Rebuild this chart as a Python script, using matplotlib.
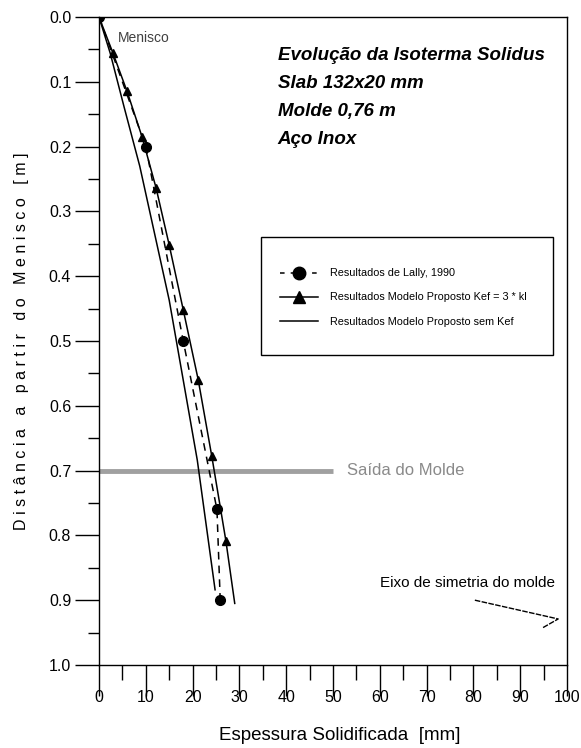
import matplotlib
matplotlib.use("Agg")
import matplotlib.pyplot as plt
from matplotlib.ticker import MultipleLocator
from matplotlib.lines import Line2D
from matplotlib.patches import Rectangle

plt.rcParams['font.family'] = ['Liberation Sans', 'DejaVu Sans']

# Data
lally_x = [0, 10, 18, 25.2, 25.9]
lally_y = [0.0, 0.2, 0.5, 0.76, 0.9]

kef_x = [0, 3.0, 6.0, 9.2, 12.2, 15.0, 18.0, 21.2, 24.1, 27.1, 29.0]
kef_y = [0.0, 0.056, 0.115, 0.185, 0.264, 0.352, 0.452, 0.56, 0.678, 0.808, 0.905]

sem_x = [0, 2.4, 5.4, 8.7, 15.0, 21.0, 24.8]
sem_y = [0.0, 0.056, 0.14, 0.23, 0.437, 0.684, 0.884]

x_ticks = list(range(0, 101, 10))
y_ticks = [round(0.1 * i, 1) for i in range(11)]

fig = plt.figure(figsize=(5.81, 7.48), dpi=100)
ax = fig.add_axes([0.1704, 0.111, 0.976 - 0.1704, 0.9773 - 0.111])

# Mold exit line
ax.plot([0, 50], [0.7, 0.7], color='#a0a0a0', lw=3.5, solid_capstyle='butt', zorder=1)
ax.text(53, 0.7, 'Saída do Molde', color='#8a8a8a', fontsize=12, va='center', ha='left')

ax.plot(sem_x, sem_y, color='black', lw=1.1, zorder=3)
ax.plot(kef_x, kef_y, color='black', lw=1.1, marker='^', markersize=6,
        markevery=list(range(1, len(kef_x) - 1)), zorder=3)
ax.plot(lally_x, lally_y, color='black', lw=1.1, ls=(0, (5, 4)), marker='o',
        markersize=7, zorder=4)

ax.set_xlim(0, 100)
ax.set_ylim(1.0, 0.0)
ax.set_xticks(x_ticks)
ax.set_yticks(y_ticks)
ax.set_yticklabels([f'{v:.1f}' for v in y_ticks])
ax.xaxis.set_minor_locator(MultipleLocator(5))
ax.yaxis.set_minor_locator(MultipleLocator(0.05))
ax.tick_params(axis='both', which='major', direction='out', length=17, width=1, labelsize=11.5)
ax.tick_params(axis='both', which='minor', direction='out', length=8, width=1)
ax.tick_params(axis='x', which='major', length=22, pad=-4)
ax.tick_params(axis='x', which='minor', length=11)
ax.tick_params(axis='y', which='major', pad=3)
for s in ax.spines.values():
    s.set_linewidth(1)

ax.set_xlabel('Espessura Solidificada  [mm]', fontsize=13.5)
ax.xaxis.set_label_coords(0.515, -0.096)
ax.set_ylabel('D i s t â n c i a   a   p a r t i r   d o   M e n i s c o   [ m ]', fontsize=11.5)
ax.yaxis.set_label_coords(-0.15, 0.5)

ax.text(4, 0.032, 'Menisco', fontsize=10, color='#404040', ha='left', va='center')

title_lines = ['Evolução da Isoterma Solidus', 'Slab 132x20 mm', 'Molde 0,76 m', 'Aço Inox']
for i, t in enumerate(title_lines):
    ax.text(38.2, 0.059 + i * 0.0435, t, fontsize=13.5, fontweight='bold', fontstyle='italic',
            ha='left', va='center')

ax.text(60, 0.874, 'Eixo de simetria do molde', fontsize=11, ha='left', va='center')
ax.plot([80.3, 98.1, 94.7], [0.9, 0.929, 0.943], color='black', lw=1.0, ls=(0, (4, 1)))

# legend frame
ax.add_patch(Rectangle((0.346, 0.4784), 0.970 - 0.346, 0.6605 - 0.4784, transform=ax.transAxes,
                       fill=True, facecolor='white', edgecolor='black', lw=1, zorder=5))

handles = [
    Line2D([], [], color='black', lw=1.1, ls=(0, (3, 4)), marker='o', markersize=9),
    Line2D([], [], color='black', lw=1.1, marker='^', markersize=8),
    Line2D([], [], color='black', lw=1.1),
]
labels = ['Resultados de Lally, 1990', 'Resultados Modelo Proposto Kef = 3 * kl',
          'Resultados Modelo Proposto sem Kef']
leg = ax.legend(handles, labels, loc='upper left', bbox_to_anchor=(0.387, 0.612),
                fontsize=7.8, frameon=False,
                handlelength=3.5, handletextpad=1.1, borderpad=0, labelspacing=1.3,
                borderaxespad=0)
leg.set_zorder(6)

fig.savefig('out.png', dpi=100)
